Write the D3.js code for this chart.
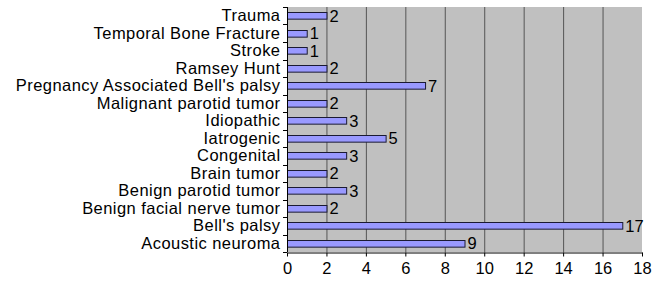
<!DOCTYPE html>
<html><head><meta charset="utf-8">
<script src="https://cdn.jsdelivr.net/npm/d3@7"></script>
<style>body{margin:0;background:#fff}svg{display:block}text{font-family:"Liberation Sans",Arial,Helvetica,sans-serif;fill:#000}</style>
</head><body>
<script>
const categories = ["Trauma","Temporal Bone Fracture","Stroke","Ramsey Hunt","Pregnancy Associated Bell's palsy","Malignant parotid tumor","Idiopathic","Iatrogenic","Congenital","Brain tumor","Benign parotid tumor","Benign facial nerve tumor","Bell's palsy","Acoustic neuroma"];
const values = [2,1,1,2,7,2,3,5,3,2,3,2,17,9];
const xTicks = [0,2,4,6,8,10,12,14,16,18];

const W = 668, H = 281;
const FS = "16.5px";
const m = {left:287, right:26, top:7, bottom:29};
const svg = d3.select("body").append("svg").attr("width",W).attr("height",H);
const x = d3.scaleLinear().domain([0,18]).range([m.left, W-m.right]);
const y = d3.scaleBand().domain(categories).range([m.top, H-m.bottom]).paddingInner(0.62).paddingOuter(0.31);

// plot background
svg.append("rect").attr("x",x(0)).attr("y",m.top).attr("width",x(18)-x(0)).attr("height",H-m.bottom-m.top).attr("fill","#c0c0c0");
// gridlines
svg.append("g").selectAll("line").data(xTicks.filter(d=>d>0 && d<18)).join("line")
  .attr("x1",d=>x(d)+0.5).attr("x2",d=>x(d)+0.5).attr("y1",m.top).attr("y2",H-m.bottom)
  .attr("stroke","#555").attr("stroke-width",1);

// bars
svg.append("g").selectAll("rect").data(categories).join("rect")
  .attr("x",x(0)+0.5).attr("y",(d)=>Math.round(y(d))+0.5)
  .attr("width",(d,i)=>x(values[i])-x(0)).attr("height",y.bandwidth())
  .attr("fill","#9999ff").attr("stroke","#1a1a33").attr("stroke-width",1);
// value labels
svg.append("g").selectAll("text").data(categories).join("text")
  .attr("x",(d,i)=>x(values[i])+3).attr("y",d=>y(d)+y.bandwidth()/2)
  .attr("dy","0.36em").attr("font-size",FS).text((d,i)=>values[i]);

// y axis
const yAxis = d3.axisLeft(y).tickSize(0).tickPadding(6.5);
const gy = svg.append("g").attr("transform",`translate(${x(0)},0)`).call(yAxis);
gy.select(".domain").remove();
gy.selectAll("text").attr("font-size",FS).attr("font-family",null).attr("fill","#000").attr("letter-spacing","0.45px");
// y ticks at band boundaries
const bounds = categories.map(c=>y(c)-y.step()*y.paddingInner()/2).concat([H-m.bottom]);
svg.append("g").selectAll("line").data(bounds).join("line")
  .attr("x1",x(0)-4).attr("x2",x(0)).attr("y1",d=>Math.round(d)+0.5).attr("y2",d=>Math.round(d)+0.5)
  .attr("stroke","#000");
svg.append("line").attr("x1",x(0)+0.5).attr("x2",x(0)+0.5).attr("y1",m.top).attr("y2",H-m.bottom).attr("stroke","#000");

// x axis
const xAxis = d3.axisBottom(x).tickValues(xTicks).tickSize(4).tickPadding(6).tickSizeOuter(0);
const gx = svg.append("g").attr("transform",`translate(0,${H-m.bottom+0.5})`).call(xAxis);
gx.select(".domain").attr("stroke","#000");
gx.selectAll("text").attr("font-size",FS).attr("font-family",null).attr("fill","#000");
</script>
</body></html>
